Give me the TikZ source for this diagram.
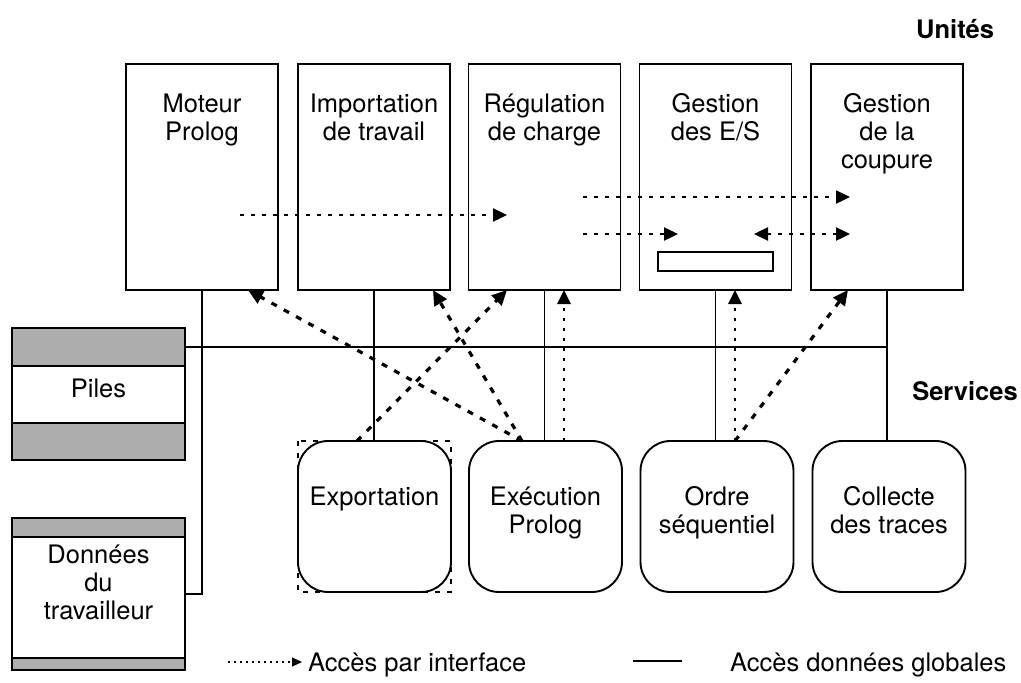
\documentclass[tikz,border=0pt]{standalone}
\usepackage{fontspec}
\setmainfont{TeX Gyre Heros}
\usetikzlibrary{arrows.meta,calc}
\begin{document}
\begin{tikzpicture}[x=1pt,y=-1pt,
  font=\fontsize{25.5}{28}\selectfont,
  unit/.style={draw, line width=1.9pt, minimum width=152pt, minimum height=226pt, inner sep=0pt, outer sep=0pt},
  service/.style={draw, line width=1.9pt, rounded corners=30pt, minimum width=153pt, minimum height=151pt, inner sep=0pt, outer sep=0pt},
  store/.style={draw, line width=1.9pt, minimum width=173pt, inner sep=0pt, outer sep=0pt},
  band/.style={draw, line width=1.5pt, fill=black!32},
  lbl/.style={align=center, anchor=base, inner sep=0pt},
  title/.style={anchor=base, inner sep=0pt, font=\fontsize{25.5}{28}\selectfont\bfseries},
  bus/.style={line width=1.7pt},
  iface/.style={line width=2.4pt, dash pattern=on 4pt off 7pt, -{Triangle[length=14pt,width=13pt]}},
  ifaceboth/.style={line width=2.4pt, dash pattern=on 4pt off 7pt, {Triangle[length=14pt,width=13pt]}-{Triangle[length=14pt,width=13pt]}},
  ifacev/.style={line width=2.8pt, dash pattern=on 3pt off 7pt, -{Triangle[length=14pt,width=13pt]}},
  ifaced/.style={line width=3.2pt, dash pattern=on 6pt off 8pt, -{Triangle[length=15pt,width=14pt]}},
  legiface/.style={line width=1.3pt, dash pattern=on 2pt off 4pt, -{Triangle[length=10pt,width=9pt]}},
]
\useasboundingbox (0,0) rectangle (1021,683);

% units
\node[unit] (u1) at (202,177) {};
\node[unit] (u2) at (374,177) {};
\node[unit] (u3) at (544.5,177) {};
\node[unit] (u4) at (715.5,177) {};
\node[unit] (u5) at (887,177) {};
\node[lbl] (t1) at (u1.north |- 0,140) {Moteur\\Prolog};
\node[lbl] (t2) at (u2.north |- 0,140) {Importation\\de travail};
\node[lbl] (t3) at (u3.north |- 0,140) {Régulation\\de charge};
\node[lbl] (t4) at (u4.north |- 0,140) {Gestion\\des E/S};
\node[lbl] (t5) at (u5.north |- 0,168) {Gestion\\de la\\coupure};
\node[draw, line width=1.5pt, minimum width=115pt, minimum height=19pt, inner sep=0pt, outer sep=0pt] (buf) at (715.5,261.5) {};

% services
\node[service] (s1) at (374.5,516.5) {};
\node[service] (s2) at (545.5,516.5) {};
\node[service] (s3) at (717,516.5) {};
\node[service] (s4) at (889,516.5) {};
\node[lbl] (e1) at (s1.north |- 0,505) {Exportation};
\node[lbl] (e2) at (s2.north |- 0,533) {Exécution\\Prolog};
\node[lbl] (e3) at (s3.north |- 0,533) {Ordre\\séquentiel};
\node[lbl] (e4) at (s4.north |- 0,533) {Collecte\\des traces};
\draw[line width=1.5pt, dash pattern=on 5pt off 7pt] (s1.north west) rectangle (s1.south east);

% stores
\node[store, minimum height=132pt] (piles) at (98.5,394) {};
\draw[band] (piles.north west) rectangle ($(piles.north east)+(0,38)$);
\draw[band] (piles.south west) rectangle ($(piles.south east)+(0,-37)$);
\node[lbl] (tp) at (piles.center |- 0,397) {Piles};
\node[store, minimum height=152pt] (donnees) at (98.5,594) {};
\draw[band] (donnees.north west) rectangle ($(donnees.north east)+(0,19)$);
\draw[band] (donnees.south west) rectangle ($(donnees.south east)+(0,-12)$);
\node[lbl] (td) at (donnees.center |- 0,619) {Données\\du\\travailleur};

\node[title] (unites) at (955,38) {Unités};
\node[title] (services) at (965,400) {Services};

% global data access
\coordinate (bus) at (0,347);
\draw[bus] (piles.east |- bus) -- (u5.south |- bus);
\draw[bus] (u1.south) |- (donnees.east);
\draw[bus] (u2.south) -- (u2.south |- s1.north);
\draw[bus] (u3.south) -- (u3.south |- s2.north);
\draw[bus] (u4.south) -- (u4.south |- s3.north);
\draw[bus] (u5.south) -- (u5.south |- s4.north);

% interface access inside units
\coordinate (h1a) at (240,215);
\coordinate (h1b) at (507,215);
\coordinate (h2a) at (583,197);
\coordinate (h2b) at (850,197);
\coordinate (h3a) at (583,234);
\coordinate (h3b) at (678,234);
\coordinate (h4a) at (754,234);
\coordinate (h4b) at (850,234);
\draw[iface] (h1a) -- (h1b);
\draw[iface] (h2a) -- (h2b);
\draw[iface] (h3a) -- (h3b);
\draw[ifaceboth] (h4a) -- (h4b);

% interface access from services
\coordinate (x2) at ($(s2.north west)+(53,0)$);
\coordinate (x1) at ($(s1.north west)+(59,0)$);
\coordinate (x2v) at ($(s2.north west)+(95,0)$);
\coordinate (x3) at ($(s3.north west)+(94.5,0)$);
\draw[ifaced] (x2) -- ($(u1.south west)+(122,0)$);
\draw[ifaced] (x2) -- ($(u2.south west)+(135,0)$);
\draw[ifaced] (x1) -- ($(u3.south west)+(38.5,0)$);
\draw[ifacev] (x2v) -- (x2v |- u3.south);
\draw[ifacev] (x3) -- (x3 |- u4.south);
\draw[ifaced] (x3) -- ($(u5.south west)+(37,0)$);

% legend
\coordinate (l1) at (228,662);
\coordinate (l2) at (302,662);
\coordinate (l3) at (633,661);
\coordinate (l4) at (682,661);
\draw[legiface] (l1) -- (l2);
\node[anchor=base west, inner sep=0pt] (leg1) at (308,671) {Accès par interface};
\draw[bus] (l3) -- (l4);
\node[anchor=base west, inner sep=0pt] (leg2) at (730,671) {Accès données globales};
\end{tikzpicture}
\end{document}
